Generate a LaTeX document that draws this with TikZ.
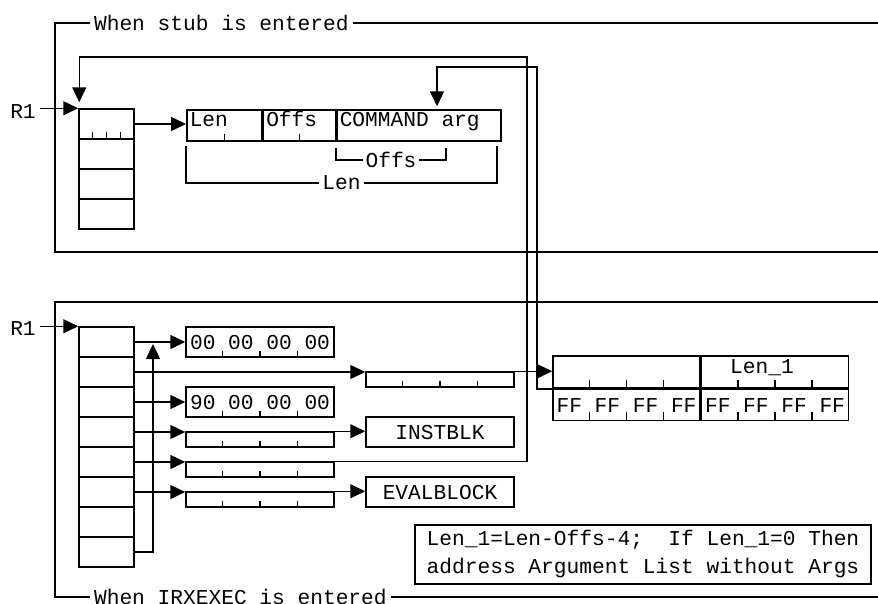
\documentclass[tikz,border=0pt]{standalone}
\usepackage{fontspec}
\setmonofont{Liberation Mono}
\usetikzlibrary{arrows.meta,positioning,calc}

\begin{document}
\begin{tikzpicture}[x=1pt,y=-1pt,line width=1.5pt,
  font=\ttfamily\fontsize{21.2}{28}\selectfont,
  >={Triangle[length=15pt,width=14pt]},
  cell/.style={draw,minimum width=55pt,minimum height=30pt,inner sep=0pt},
  word/.style={draw,minimum width=148pt,minimum height=30pt,inner sep=0pt,
    text height=14pt,text depth=0pt},
  half/.style={draw,minimum width=148pt,minimum height=15pt,inner sep=0pt},
  head/.style={draw,minimum height=31pt,inner xsep=3pt,inner ysep=0pt,
    text height=14pt,text depth=12pt},
  slot/.style={draw,minimum width=147pt,inner sep=0pt},
  dim/.style={fill=white,inner sep=3pt}]
  \useasboundingbox (0,0) rectangle (878,603);

  % register 1 on entry to the stub
  \node[anchor=west] (stubhdr) at (90,23) {When stub is entered};
  \draw (stubhdr.west) -- (55,23) -- (55,252) -- (878,252);
  \draw (stubhdr.east) -- (878,23);
  \node (r1a) at (23,112) {R1};
  \foreach \i in {1,...,4}
    \node[cell] (hi\i) at (106.5,{94+30*\i}) {};
  \foreach \f in {.25,.5,.75}
    \draw ($(hi1.south west)!\f!(hi1.south east)$) -- ++(0,-8);
  \node[head,anchor=west] (lenf) at (186,125.5) {\makebox[69pt][l]{Len}};
  \node[head,right=0pt of lenf] (offsf) {\makebox[66pt][l]{Offs}};
  \node[head,right=0pt of offsf] (cmdf) {\makebox[158pt][l]{COMMAND arg}};
  \foreach \b in {lenf,offsf}
    \draw ($(\b.south west)!.5!(\b.south east)$) -- ++(0,-8);
  \draw[->] (r1a.east |- hi1.north west) -- (hi1.north west);
  \draw[->] (hi1.east) -- (hi1.east -| lenf.west);
  \draw ($(cmdf.south west)+(0,6)$) -- ++(0,12)
    -- node[dim] (offsdim) {Offs} ++(110,0) -- ++(0,-12);
  \draw ($(lenf.south west)+(0,4)$) -- ++(0,37)
    -- node[dim] (lendim) {Len} ++(311,0) -- ++(0,-37);

  % register 1 on entry to IRXEXEC
  \node[anchor=west] (exechdr) at (90,597) {When IRXEXEC is entered};
  \draw (878,302) -- (55,302) -- (55,597) -- (exechdr.west);
  \draw (exechdr.east) -- (878,597);
  \node (r1b) at (23,329) {R1};
  \foreach \i in {1,...,8}
    \node[cell] (lo\i) at (106.5,{312+30*\i}) {};
  \draw[->] (r1b.east |- lo1.north west) -- (lo1.north west);

  \node[word] (zeros) at (260,342) {00 00 00 00};
  \node[word] (nines) at (260,402) {90 00 00 00};
  \node[half] (wordA) at (260,439.5) {};
  \node[half] (wordB) at (260,469.5) {};
  \node[half] (wordC) at (260,499.5) {};
  \node[half] (argp) at (440,379.5) {};
  \node[word] (instblk) at (440,432) {INSTBLK};
  \node[word] (evalblk) at (440,492) {EVALBLOCK};
  \foreach \b in {zeros,nines,wordA,wordB,wordC,argp}
    \foreach \f in {.25,.5,.75}
      \draw ($(\b.south west)!\f!(\b.south east)$) -- ++(0,-7);

  % argument list
  \node[slot,minimum height=32pt] (ffa) at (626.5,372) {};
  \node[slot,minimum height=32pt,text height=14pt,text depth=12pt,
    right=0pt of ffa] (ffb) {Len\_1\hspace*{26pt}};
  \node[slot,minimum height=31pt,text height=14pt,text depth=0pt,
    below=0pt of ffa] (ffc) {FF FF FF FF};
  \node[slot,minimum height=31pt,text height=14pt,text depth=0pt,
    below=0pt of ffb] (ffd) {FF FF FF FF};
  \draw[line width=3pt] (ffa.south west) -- (ffb.south east);
  \foreach \b in {ffa,ffb,ffc,ffd}
    \foreach \f in {.25,.5,.75}
      \draw ($(\b.south west)!\f!(\b.south east)$) -- ++(0,-9);

  \coordinate (upin) at (153,344);
  \coordinate (hiin) at ($(hi1.north west)+(1,-6)$);
  \coordinate (cmdin) at ($(cmdf.north west)+(101,-3)$);
  \draw[->] (lo1.east) -- (zeros.west);
  \draw[->] (lo2.east) -- (lo2.east -| argp.west);
  \draw[->] (lo3.east) -- (nines.west);
  \draw[->] (lo4.east) -- (lo4.east -| wordA.west);
  \draw[->] (lo5.east) -- (lo5.east -| wordB.west);
  \draw[->] (lo6.east) -- (lo6.east -| wordC.west);
  \draw[->] (lo8.east) -| (upin);
  \draw[->] (wordA.north east) -- (wordA.north east -| instblk.west);
  \draw[->] (wordC.north east) -- (wordC.north east -| evalblk.west);
  \draw[->] (argp.north east) -- (argp.north east -| ffa.west);
  \draw[->] (wordB.north east) -| (527,57) -| (hiin);
  \draw[->] (ffa.south west) -| (537,67) -| (cmdin);

  \node[draw,align=left,minimum width=456pt,minimum height=59pt,
    inner xsep=11pt] (note) at (643,554.5)
    {Len\_1=Len-Offs-4;\ \ If Len\_1=0 Then\\
     address Argument List without Args};
\end{tikzpicture}
\end{document}
